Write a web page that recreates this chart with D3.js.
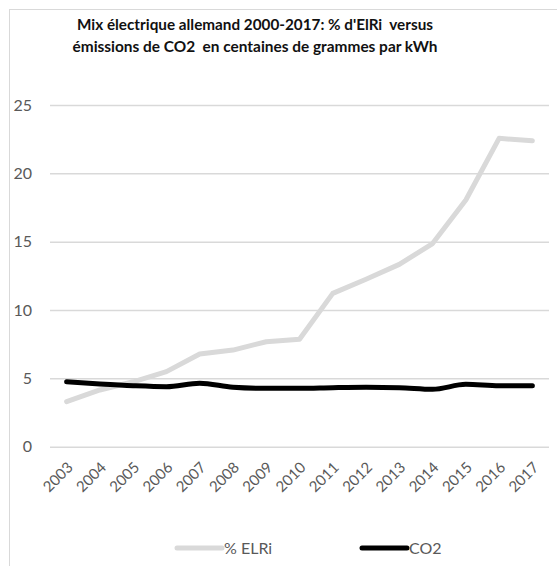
<!DOCTYPE html>
<html>
<head>
<meta charset="utf-8">
<script src="https://cdn.jsdelivr.net/npm/d3@7"></script>
<style>
  body { margin: 0; background: #fff; }
  svg { display: block; font-family: Lato, 'Open Sans', sans-serif; }
</style>
</head>
<body>
<svg id="chart"></svg>
<script>
// data
const years = ['2003', '2004', '2005', '2006', '2007', '2008', '2009', '2010',
  '2011', '2012', '2013', '2014', '2015', '2016', '2017'];
const elri = [3.29, 4.15, 4.75, 5.49, 6.78, 7.07, 7.68, 7.86,
  11.22, 12.25, 13.34, 14.86, 18.05, 22.56, 22.38];
const co2 = [4.75, 4.59, 4.46, 4.39, 4.64, 4.35, 4.27, 4.27,
  4.32, 4.35, 4.32, 4.2, 4.56, 4.46, 4.46];
const yTicks = [0, 5, 10, 15, 20, 25];
const titleLines = [
  "Mix électrique allemand 2000-2017: % d'ElRi  versus",
  'émissions de CO2  en centaines de grammes par kWh'
];
const seriesNames = ['% ELRi', 'CO2'];

const width = 557;
const height = 566;
const plotLeft = 50;
const plotRight = 549;
const plotTop = 105;
const plotBottom = 446.7;

const svg = d3.select('#chart').attr('width', width).attr('height', height);

svg.append('rect')
  .attr('x', 9.5).attr('y', 9.5)
  .attr('width', 600).attr('height', 600)
  .attr('fill', 'none')
  .attr('stroke', '#d9d9d9');

const title = svg.append('g');
titleLines.forEach((t, i) => {
  title.append('text')
    .attr('x', 255)
    .attr('y', 30 + i * 22)
    .attr('text-anchor', 'middle')
    .attr('textLength', i === 0 ? 356 : 365)
    .attr('lengthAdjust', 'spacingAndGlyphs')
    .style('white-space', 'pre')
    .style('font-weight', 'bold')
    .style('font-size', '15px')
    .style('fill', '#111')
    .text(t);
});

const xScale = d3.scalePoint().domain(years).range([plotLeft, plotRight]).padding(0.5);
const yScale = d3.scaleLinear().domain([0, 25]).range([plotBottom, plotTop]);

const yAxis = d3.axisLeft(yScale)
  .tickValues(yTicks)
  .tickSize(-(plotRight - plotLeft))
  .tickPadding(18);

const gy = svg.append('g')
  .attr('transform', 'translate(' + plotLeft + ',0)')
  .call(yAxis);
gy.select('.domain').remove();
gy.selectAll('.tick line').attr('stroke', '#d9d9d9').attr('stroke-width', 1.5);
gy.selectAll('.tick text')
  .style('font-size', '16px')
  .style('font-family', 'Lato, sans-serif')
  .attr('fill', '#595959');

const xAxis = d3.axisBottom(xScale).tickSize(0);
const gx = svg.append('g')
  .attr('transform', 'translate(0,' + plotBottom + ')')
  .call(xAxis);
gx.select('.domain').remove();
gx.selectAll('.tick text')
  .attr('y', 0)
  .attr('dy', '0.35em')
  .attr('text-anchor', 'end')
  .attr('transform', 'translate(3,18) rotate(-45)')
  .style('font-size', '15px')
  .style('font-family', 'Lato, sans-serif')
  .attr('fill', '#595959');

const lineElri = d3.line()
  .x((d, i) => xScale(years[i]))
  .y((d) => yScale(d));
const lineCo2 = d3.line()
  .x((d, i) => xScale(years[i]))
  .y((d) => yScale(d))
  .curve(d3.curveMonotoneX);

svg.append('path')
  .datum(elri)
  .attr('d', lineElri)
  .attr('fill', 'none')
  .attr('stroke', '#d9d9d9')
  .attr('stroke-width', 5)
  .attr('stroke-linejoin', 'round')
  .attr('stroke-linecap', 'round');

svg.append('path')
  .datum(co2)
  .attr('d', lineCo2)
  .attr('fill', 'none')
  .attr('stroke', '#000')
  .attr('stroke-width', 5)
  .attr('stroke-linejoin', 'round')
  .attr('stroke-linecap', 'round');

// legend
const legendColors = ['#d9d9d9', '#000'];
const legendX = [177, 362];
const legend = svg.append('g');
seriesNames.forEach((name, i) => {
  legend.append('line')
    .attr('x1', legendX[i]).attr('x2', legendX[i] + 45)
    .attr('y1', 548).attr('y2', 548)
    .attr('stroke', legendColors[i])
    .attr('stroke-width', 5)
    .attr('stroke-linecap', 'round');
  legend.append('text')
    .attr('x', legendX[i] + 47)
    .attr('y', 554)
    .style('font-size', '16px')
    .attr('fill', '#595959')
    .text(name);
});
</script>
</body>
</html>
